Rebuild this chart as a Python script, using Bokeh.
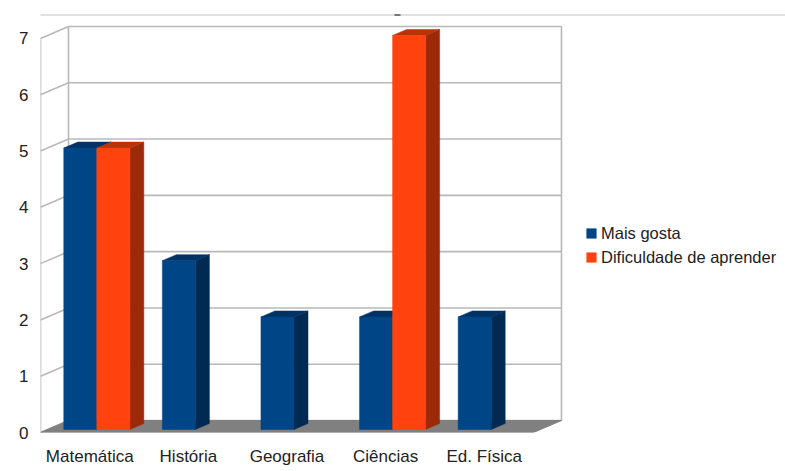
from bokeh.plotting import figure
from bokeh.models import Range1d, FixedTicker, Legend, LegendItem, BoxAnnotation
from bokeh.embed import file_html
from bokeh.resources import INLINE

# ---------------- data ----------------
categories = ["Matemática", "História", "Geografia", "Ciências", "Ed. Física"]
series_names = ["Mais gosta", "Dificuldade de aprender"]
mais_gosta = [5, 3, 2, 2, 2]
dificuldade = [5, None, None, 7, None]
y_ticks = [0, 1, 2, 3, 4, 5, 6, 7]

series_values = [mais_gosta, dificuldade]

# ---------------- style ----------------
FONT = "Liberation Sans"
FS = "17px"
TXT = "#222222"
WALL = "#b8b8b8"
FLOOR = "#808080"
front_col = ["#004586", "#ff420e"]
top_col = ["#003266", "#b8320a"]
side_col = ["#002a52", "#9c2a08"]

DX, DY = 0.284, 0.213     # full depth offset (data units)
FX, FY = 0.25 * DX, 0.25 * DY  # bar front-face offset
HX, HY = 0.5 * DX, 0.5 * DY    # bar depth
BAR_W = 0.335

n = len(categories)
ymax = max(y_ticks)

p = figure(width=785, height=471, output_backend="svg", toolbar_location=None,
           x_range=Range1d(0, 7.556), y_range=Range1d(0, 7.426),
           min_border_left=40, min_border_right=0, min_border_top=14, min_border_bottom=39,
           background_fill_color="white", border_fill_color="white")
p.outline_line_color = None
p.grid.visible = False

# ---- walls ----
wall_xs, wall_ys = [], []
for v in y_ticks:
    wall_xs.append([DX, n + DX]); wall_ys.append([v + DY, v + DY])   # back wall grid
    wall_xs.append([0, DX]); wall_ys.append([v, v + DY])             # side wall grid
wall_xs += [[0, 0], [DX, DX], [n + DX, n + DX]]
wall_ys += [[0, ymax], [DY, ymax + DY], [DY, ymax + DY]]
p.multi_line(wall_xs, wall_ys, line_color=WALL, line_width=1.6)

# ---- floor ----
p.patch([0, n, n + DX, DX], [0, 0, DY, DY], fill_color=FLOOR, line_color=FLOOR, line_width=1)

# ---- bars ----
side_xs, side_ys, side_c = [], [], []
top_xs, top_ys, top_c = [], [], []
fronts = [dict(l=[], r=[], b=[], t=[]) for _ in series_values]
for i in range(n):
    for s, vals in enumerate(series_values):
        v = vals[i]
        if v is None:
            continue
        x0 = i + 0.5 - BAR_W + s * BAR_W + FX
        x1 = x0 + BAR_W
        b = FY
        t = v + FY
        side_xs.append([x1, x1 + HX, x1 + HX, x1]); side_ys.append([b, b + HY, t + HY, t]); side_c.append(side_col[s])
        top_xs.append([x0, x1, x1 + HX, x0 + HX]); top_ys.append([t, t, t + HY, t + HY]); top_c.append(top_col[s])
        fronts[s]["l"].append(x0); fronts[s]["r"].append(x1)
        fronts[s]["b"].append(b); fronts[s]["t"].append(t)

p.patches(side_xs, side_ys, fill_color=side_c, line_color=side_c, line_width=0.5)
p.patches(top_xs, top_ys, fill_color=top_c, line_color=top_c, line_width=0.5)
items = []
for s, f in enumerate(fronts):
    r = p.quad(left=f["l"], right=f["r"], bottom=f["b"], top=f["t"],
               fill_color=front_col[s], line_color=front_col[s], line_width=0.5)
    items.append(LegendItem(label=series_names[s], renderers=[r]))

# ---- axes ----
xa = p.xaxis[0]
xa.ticker = FixedTicker(ticks=[i + 0.5 for i in range(n)])
xa.major_label_overrides = {i + 0.5: c for i, c in enumerate(categories)}
ya = p.yaxis[0]
ya.ticker = FixedTicker(ticks=y_ticks)
for ax in (xa, ya):
    ax.axis_line_color = None
    ax.major_tick_line_color = None
    ax.minor_tick_line_color = None
    ax.major_tick_out = 0
    ax.major_tick_in = 0
    ax.major_label_text_font = FONT
    ax.major_label_text_font_size = FS
    ax.major_label_text_color = TXT
xa.major_label_standoff = 14
ya.major_label_standoff = 12

# ---- legend ----
legend = Legend(items=items, location=(545, 165), orientation="vertical",
                glyph_width=12, glyph_height=12, label_height=20, spacing=4,
                label_standoff=4, padding=0, margin=0,
                border_line_color=None, background_fill_alpha=0,
                label_text_font=FONT, label_text_font_size="16.5px", label_text_color=TXT)
p.add_layout(legend)

# ---- top rule ----
p.add_layout(BoxAnnotation(left=8, right=785, top=13, bottom=15,
                           left_units="canvas", right_units="canvas",
                           top_units="canvas", bottom_units="canvas",
                           fill_color="#c4c4c4", fill_alpha=1, line_color=None))
p.add_layout(BoxAnnotation(left=394, right=400, top=12, bottom=15,
                           left_units="canvas", right_units="canvas",
                           top_units="canvas", bottom_units="canvas",
                           fill_color="#111111", fill_alpha=1, line_color=None))

open("out.html", "w").write(file_html(p, INLINE))
